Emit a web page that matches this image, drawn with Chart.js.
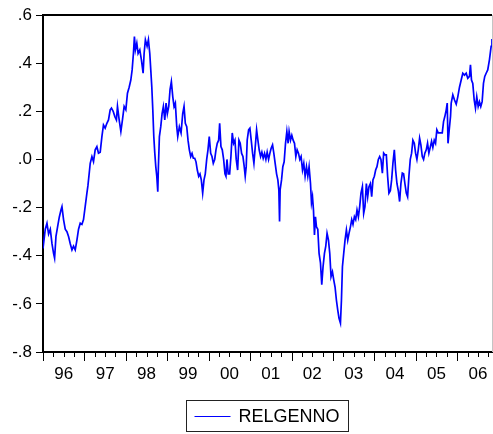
<!DOCTYPE html>
<html>
<head>
<meta charset="utf-8">
<script src="https://cdn.jsdelivr.net/npm/chart.js@4.4.1/dist/chart.umd.min.js"></script>
<style>
  html, body { margin: 0; padding: 0; background: #fff; }
  #wrap { width: 493px; height: 434px; }
</style>
</head>
<body>
<div id="wrap"><canvas id="c" width="493" height="434"></canvas></div>
<script>
// RELGENNO, observation dates as decimal years
const dates = [
  1996.000, 1996.055, 1996.096, 1996.135, 1996.176, 1996.217, 1996.255, 1996.280, 1996.313, 1996.352,
  1996.393, 1996.434, 1996.458, 1996.496, 1996.537, 1996.578, 1996.617, 1996.658, 1996.699, 1996.737,
  1996.778, 1996.819, 1996.858, 1996.899, 1996.940, 1996.978, 1997.019, 1997.060, 1997.084, 1997.116,
  1997.140, 1997.181, 1997.219, 1997.260, 1997.301, 1997.340, 1997.381, 1997.422, 1997.460, 1997.501,
  1997.542, 1997.581, 1997.622, 1997.653, 1997.694, 1997.735, 1997.773, 1997.798, 1997.839, 1997.880,
  1997.918, 1997.959, 1998.000, 1998.039, 1998.080, 1998.120, 1998.152, 1998.183, 1998.207, 1998.231,
  1998.265, 1998.296, 1998.337, 1998.376, 1998.417, 1998.441, 1998.472, 1998.513, 1998.545, 1998.578,
  1998.602, 1998.627, 1998.651, 1998.675, 1998.699, 1998.723, 1998.747, 1998.771, 1998.786, 1998.810,
  1998.843, 1998.875, 1998.906, 1998.940, 1998.971, 1999.002, 1999.036, 1999.067, 1999.099, 1999.133,
  1999.164, 1999.195, 1999.229, 1999.253, 1999.292, 1999.333, 1999.373, 1999.405, 1999.436, 1999.470,
  1999.501, 1999.533, 1999.566, 1999.598, 1999.629, 1999.663, 1999.694, 1999.725, 1999.759, 1999.790,
  1999.822, 1999.855, 1999.887, 1999.918, 1999.952, 1999.983, 2000.014, 2000.048, 2000.080, 2000.111,
  2000.145, 2000.176, 2000.207, 2000.241, 2000.265, 2000.296, 2000.328, 2000.361, 2000.393, 2000.417,
  2000.441, 2000.472, 2000.506, 2000.537, 2000.569, 2000.602, 2000.634, 2000.665, 2000.699, 2000.730,
  2000.761, 2000.795, 2000.827, 2000.858, 2000.882, 2000.906, 2000.930, 2000.964, 2000.995, 2001.027,
  2001.060, 2001.092, 2001.123, 2001.157, 2001.188, 2001.219, 2001.253, 2001.284, 2001.316, 2001.349,
  2001.381, 2001.412, 2001.446, 2001.477, 2001.508, 2001.542, 2001.573, 2001.605, 2001.639, 2001.670,
  2001.694, 2001.711, 2001.725, 2001.759, 2001.790, 2001.822, 2001.855, 2001.887, 2001.918, 2001.942,
  2001.976, 2002.007, 2002.039, 2002.072, 2002.104, 2002.135, 2002.169, 2002.200, 2002.231, 2002.265,
  2002.296, 2002.328, 2002.361, 2002.393, 2002.424, 2002.458, 2002.482, 2002.506, 2002.530, 2002.554,
  2002.578, 2002.602, 2002.634, 2002.665, 2002.699, 2002.730, 2002.761, 2002.795, 2002.827, 2002.858,
  2002.892, 2002.923, 2002.954, 2002.988, 2003.019, 2003.051, 2003.084, 2003.116, 2003.147, 2003.181,
  2003.205, 2003.229, 2003.260, 2003.292, 2003.325, 2003.357, 2003.388, 2003.422, 2003.453, 2003.484,
  2003.518, 2003.549, 2003.581, 2003.614, 2003.646, 2003.677, 2003.711, 2003.742, 2003.773, 2003.807,
  2003.839, 2003.870, 2003.904, 2003.935, 2003.966, 2004.000, 2004.031, 2004.063, 2004.096, 2004.128,
  2004.159, 2004.193, 2004.224, 2004.255, 2004.289, 2004.320, 2004.352, 2004.386, 2004.417, 2004.448,
  2004.482, 2004.513, 2004.545, 2004.578, 2004.610, 2004.641, 2004.675, 2004.706, 2004.737, 2004.771,
  2004.802, 2004.834, 2004.867, 2004.899, 2004.930, 2004.964, 2004.995, 2005.027, 2005.060, 2005.092,
  2005.123, 2005.157, 2005.188, 2005.219, 2005.253, 2005.284, 2005.316, 2005.349, 2005.381, 2005.412,
  2005.446, 2005.477, 2005.508, 2005.542, 2005.573, 2005.605, 2005.639, 2005.670, 2005.701, 2005.735,
  2005.759, 2005.778, 2005.807, 2005.839, 2005.855, 2005.894, 2005.935, 2005.976, 2006.014, 2006.055,
  2006.096, 2006.135, 2006.176, 2006.217, 2006.255, 2006.296, 2006.320, 2006.345, 2006.376, 2006.410,
  2006.441, 2006.472, 2006.506, 2006.537, 2006.569, 2006.602, 2006.634, 2006.665, 2006.699, 2006.737,
  2006.778, 2006.819, 2006.839
];

const relgenno = [
  -0.370, -0.290, -0.265, -0.310, -0.290, -0.350, -0.390, -0.410, -0.320, -0.280,
  -0.240, -0.210, -0.196, -0.250, -0.290, -0.300, -0.320, -0.350, -0.376, -0.360,
  -0.376, -0.335, -0.290, -0.265, -0.270, -0.250, -0.195, -0.140, -0.110, -0.057,
  -0.016, 0.012, -0.009, 0.040, 0.053, 0.026, 0.030, 0.095, 0.143, 0.130,
  0.150, 0.164, 0.206, 0.213, 0.200, 0.178, 0.164, 0.220, 0.164, 0.116,
  0.164, 0.220, 0.206, 0.275, 0.300, 0.330, 0.372, 0.440, 0.510, 0.455,
  0.483, 0.440, 0.455, 0.414, 0.358, 0.440, 0.497, 0.470, 0.497, 0.440,
  0.372, 0.300, 0.206, 0.095, 0.026, -0.030, -0.070, -0.134, -0.030, 0.095,
  0.136, 0.190, 0.220, 0.164, 0.234, 0.190, 0.220, 0.290, 0.323, 0.260,
  0.220, 0.234, 0.136, 0.095, 0.136, 0.110, 0.190, 0.220, 0.150, 0.136,
  0.080, 0.040, 0.012, 0.025, 0.005, 0.005, -0.010, -0.044, -0.070, -0.060,
  -0.085, -0.140, -0.085, -0.060, 0.000, 0.040, 0.095, 0.025, 0.012, -0.016,
  0.000, 0.040, 0.067, 0.080, 0.150, 0.053, 0.040, 0.000, -0.060, -0.070,
  0.000, -0.060, -0.060, 0.012, 0.110, 0.067, 0.080, 0.000, -0.044, 0.080,
  0.067, 0.025, 0.012, -0.030, -0.070, -0.030, 0.080, 0.123, 0.130, 0.080,
  0.026, -0.016, 0.050, 0.123, 0.080, 0.040, 0.012, 0.030, 0.005, 0.025,
  0.000, 0.030, 0.000, 0.025, 0.046, 0.060, 0.025, -0.016, -0.060, -0.085,
  -0.127, -0.258, -0.127, -0.085, -0.030, -0.010, 0.067, 0.116, 0.067, 0.116,
  0.080, 0.100, 0.080, 0.067, 0.012, 0.040, 0.025, 0.000, 0.012, -0.044,
  -0.016, -0.070, -0.030, -0.070, -0.030, -0.100, -0.180, -0.155, -0.210, -0.314,
  -0.238, -0.280, -0.290, -0.390, -0.430, -0.520, -0.446, -0.390, -0.360, -0.307,
  -0.335, -0.390, -0.487, -0.467, -0.500, -0.530, -0.585, -0.626, -0.660, -0.680,
  -0.585, -0.446, -0.390, -0.335, -0.293, -0.335, -0.307, -0.280, -0.250, -0.270,
  -0.238, -0.250, -0.210, -0.238, -0.196, -0.140, -0.113, -0.224, -0.196, -0.100,
  -0.155, -0.113, -0.100, -0.155, -0.085, -0.070, -0.044, -0.030, 0.000, 0.012,
  0.000, -0.057, 0.026, 0.019, 0.019, -0.070, -0.140, -0.130, -0.085, -0.016,
  0.040, -0.044, -0.100, -0.130, -0.175, -0.100, -0.057, -0.060, -0.100, -0.140,
  -0.155, -0.070, 0.000, 0.026, 0.080, 0.067, 0.026, 0.000, 0.040, 0.088,
  0.060, 0.012, 0.000, 0.026, 0.040, 0.067, 0.026, 0.050, 0.075, 0.050,
  0.080, 0.067, 0.123, 0.110, 0.110, 0.110, 0.110, 0.157, 0.178, 0.206,
  0.234, 0.067, 0.123, 0.180, 0.234, 0.268, 0.247, 0.230, 0.260, 0.300,
  0.330, 0.358, 0.350, 0.358, 0.337, 0.345, 0.393, 0.330, 0.316, 0.247,
  0.213, 0.260, 0.220, 0.240, 0.220, 0.240, 0.316, 0.345, 0.358, 0.372,
  0.414, 0.470, 0.500
];

const yearLabels = ['96', '97', '98', '99', '00', '01', '02', '03', '04', '05', '06'];
const firstYear = 1996;
const lastDate = 2006.84;
const seriesName = 'RELGENNO';

const FONT = "'Liberation Sans', Arial, Helvetica, sans-serif";
Chart.defaults.font.family = FONT;
Chart.defaults.color = '#000';

// ".6", ".0", "-.4" style labels
function decimalLabel(v) {
  const n = Math.round(Math.abs(v) * 10);
  return (v < -1e-9 ? '-' : '') + '.' + n;
}

// frame, quarterly tick marks and the boxed legend under the plot
const framePlugin = {
  id: 'frame',
  afterDraw(chart) {
    const { ctx, chartArea: a, scales: { x } } = chart;
    ctx.save();
    ctx.strokeStyle = '#000';
    ctx.lineWidth = 2;
    ctx.beginPath();
    ctx.moveTo(a.left - 1, a.top);
    ctx.lineTo(a.right, a.top);
    ctx.stroke();
    ctx.strokeStyle = '#c4c4c4';
    ctx.lineWidth = 1;
    ctx.beginPath();
    ctx.moveTo(a.right + 0.5, a.top);
    ctx.lineTo(a.right + 0.5, a.bottom);
    ctx.stroke();

    ctx.strokeStyle = '#000';
    ctx.lineWidth = 1;
    x.ticks.forEach(t => {
      const px = Math.round(x.getPixelForValue(t.value)) + 0.5;
      const len = Number.isInteger(t.value) ? 9 : 5;
      ctx.beginPath();
      ctx.moveTo(px, a.bottom);
      ctx.lineTo(px, a.bottom + len);
      ctx.stroke();
    });

    const ds = chart.data.datasets[0];
    ctx.font = '18px ' + FONT;
    const tw = ctx.measureText(ds.label).width;
    const boxW = 8 + 36 + 8 + tw + 9;
    const boxH = 31;
    const cx = (a.left + a.right) / 2;
    const bx = Math.round(cx - boxW / 2) + 0.5;
    const by = 400.5;
    ctx.strokeStyle = '#222';
    ctx.strokeRect(bx, by, Math.round(boxW), boxH);
    const my = by + boxH / 2;
    ctx.strokeStyle = ds.borderColor;
    ctx.beginPath();
    ctx.moveTo(bx + 8, Math.round(my) + 0.5);
    ctx.lineTo(bx + 44, Math.round(my) + 0.5);
    ctx.stroke();
    ctx.fillStyle = '#000';
    ctx.textBaseline = 'middle';
    ctx.textAlign = 'left';
    ctx.fillText(ds.label, bx + 52, my + 1);
    ctx.restore();
  }
};

new Chart(document.getElementById('c'), {
  type: 'line',
  data: {
    datasets: [{
      label: seriesName,
      data: dates.map((d, i) => ({ x: d, y: relgenno[i] })),
      borderColor: '#0000ff',
      borderWidth: 1.7,
      pointRadius: 0,
      tension: 0,
      fill: false
    }]
  },
  options: {
    responsive: false,
    animation: false,
    events: [],
    layout: { padding: { top: 15, right: 1, bottom: 52, left: 0 } },
    plugins: { legend: { display: false }, tooltip: { enabled: false } },
    scales: {
      x: {
        type: 'linear',
        min: firstYear,
        max: lastDate,
        afterFit: s => { s.height = 30; },
        afterBuildTicks: s => {
          const ticks = [];
          for (let q = 0; q < yearLabels.length * 4; q++) ticks.push({ value: firstYear + q / 4 });
          s.ticks = ticks;
        },
        grid: { display: false },
        border: { display: true, color: '#000', width: 2 },
        ticks: {
          autoSkip: false,
          maxRotation: 0,
          padding: 4,
          font: { size: 17 },
          color: '#000',
          callback: v => {
            const k = v - firstYear - 0.5;
            return Math.abs(k - Math.round(k)) < 1e-6 ? yearLabels[Math.round(k)] : '';
          }
        }
      },
      y: {
        min: -0.8,
        max: 0.6,
        afterFit: s => { s.width = 43; },
        grid: {
          display: true,
          drawOnChartArea: false,
          drawTicks: true,
          tickLength: 7,
          tickColor: '#000',
          tickWidth: 1
        },
        border: { display: true, color: '#000', width: 2 },
        ticks: {
          stepSize: 0.2,
          padding: 4,
          font: { size: 17 },
          color: '#000',
          callback: v => decimalLabel(v)
        }
      }
    }
  },
  plugins: [framePlugin]
});
</script>
</body>
</html>
